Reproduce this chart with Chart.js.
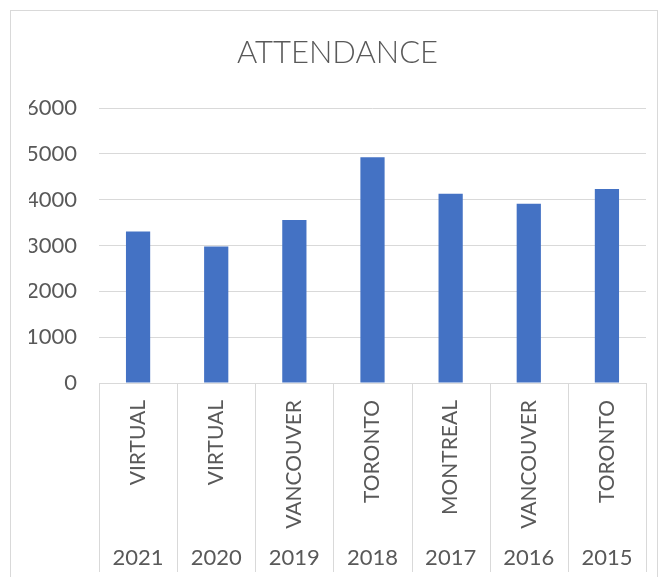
<!DOCTYPE html>
<html>
<head>
<meta charset="utf-8">
<script src="https://cdn.jsdelivr.net/npm/chart.js@4.4.0/dist/chart.umd.min.js"></script>
<style>
  html, body { margin: 0; padding: 0; background: #ffffff; }
  #wrap { width: 668px; height: 577px; position: relative; }
</style>
</head>
<body>
<div id="wrap"><canvas id="c" width="668" height="577"></canvas></div>
<script>
const cities = ["VIRTUAL", "VIRTUAL", "VANCOUVER", "TORONTO", "MONTREAL", "VANCOUVER", "TORONTO"];
const years = ["2021", "2020", "2019", "2018", "2017", "2016", "2015"];
const attendance = [3310, 2980, 3560, 4930, 4130, 3915, 4235];
const yTicks = [0, 1000, 2000, 3000, 4000, 5000, 6000];

const textColor = "#595959";
const gridColor = "#d9d9d9";
const fontFamily = "Lato, 'Open Sans', sans-serif";

const borderPlugin = {
  id: "outerBorder",
  beforeDraw(chart) {
    const ctx = chart.ctx;
    ctx.save();
    ctx.fillStyle = "#ffffff";
    ctx.fillRect(0, 0, chart.width, chart.height);
    ctx.strokeStyle = gridColor;
    ctx.lineWidth = 1;
    ctx.strokeRect(10.5, 10.5, chart.width - 21, chart.height + 20);
    ctx.restore();
  },
  afterDraw(chart) {
    // category separators spanning both label rows, positioned from the x scale
    const xs = chart.scales.x;
    const x2 = chart.scales.x2;
    const n = xs.ticks.length;
    const ctx = chart.ctx;
    ctx.save();
    ctx.strokeStyle = gridColor;
    ctx.lineWidth = 1;
    for (let i = 0; i <= n; i++) {
      const px = Math.round(xs.getPixelForValue(i - 0.5)) + 0.5;
      ctx.beginPath();
      ctx.moveTo(px, xs.top);
      ctx.lineTo(px, x2.bottom);
      ctx.stroke();
    }
    ctx.restore();
  }
};

new Chart(document.getElementById("c"), {
  type: "bar",
  data: {
    labels: cities,
    datasets: [{
      label: "Attendance",
      data: attendance,
      backgroundColor: "#4472C4",
      borderWidth: 0,
      categoryPercentage: 1.0,
      barPercentage: 0.31
    }]
  },
  options: {
    responsive: false,
    animation: false,
    devicePixelRatio: 1,
    layout: { padding: { left: 29, right: 22, top: 34, bottom: 5 } },
    plugins: {
      legend: { display: false },
      tooltip: { enabled: false },
      title: {
        display: true,
        text: "ATTENDANCE",
        color: textColor,
        font: { family: fontFamily, size: 31, weight: "300" },
        padding: { top: 0, bottom: 37 }
      }
    },
    scales: {
      x: {
        type: "category",
        position: "bottom",
        offset: true,
        grid: { display: false, drawTicks: false },
        border: { display: true, color: gridColor, width: 1 },
        afterFit(scale) { scale.height = 148; },
        ticks: {
          color: textColor,
          font: { family: fontFamily, size: 21 },
          minRotation: 90,
          maxRotation: 90,
          autoSkip: false,
          padding: 17
        }
      },
      x2: {
        type: "category",
        position: "bottom",
        labels: years,
        offset: true,
        grid: { display: false, drawTicks: false },
        border: { display: false },
        afterFit(scale) { scale.height = 41; },
        ticks: {
          color: textColor,
          font: { family: fontFamily, size: 22 },
          maxRotation: 0,
          autoSkip: false,
          padding: 14
        }
      },
      y: {
        min: 0,
        max: 6000,
        afterBuildTicks(scale) { scale.ticks = yTicks.map(v => ({ value: v })); },
        afterFit(scale) { scale.width = 70; },
        grid: { color: gridColor, lineWidth: 1, drawTicks: false },
        border: { display: false },
        ticks: {
          color: textColor,
          font: { family: fontFamily, size: 22 },
          padding: 22,
          callback: (v) => String(v)
        }
      }
    }
  },
  plugins: [borderPlugin]
});
</script>
</body>
</html>
